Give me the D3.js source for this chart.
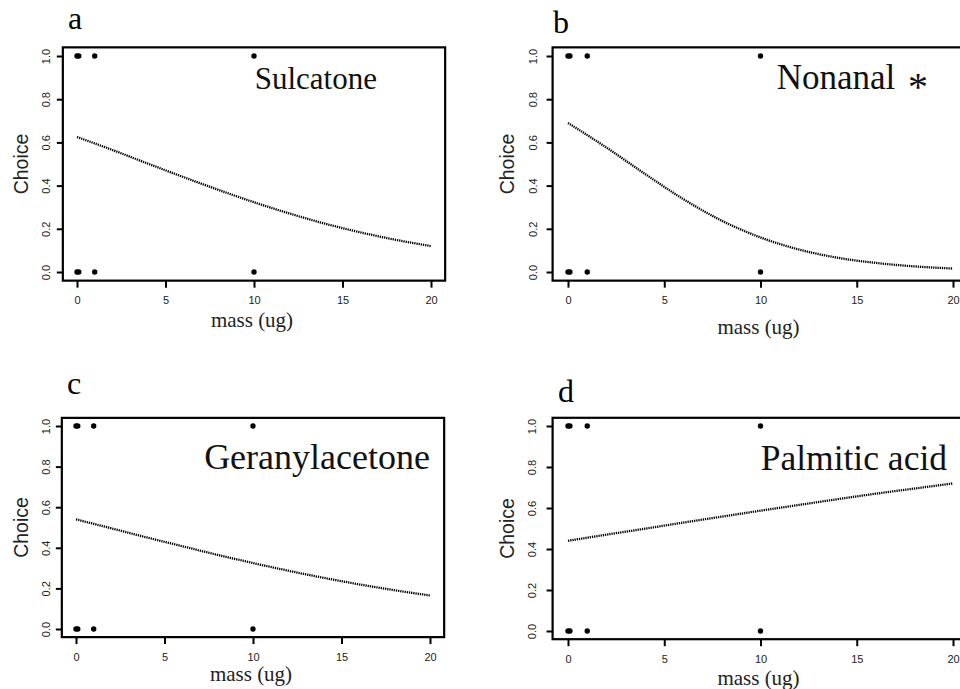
<!DOCTYPE html>
<html>
<head>
<meta charset="utf-8">
<script src="https://cdn.jsdelivr.net/npm/d3@7"></script>
<style>
  body { margin: 0; background: #fff; }
  .tick text { font-family: "Liberation Sans", Arial, sans-serif; font-size: 11px; fill: #222; }
  .tick line { stroke: #000; stroke-width: 2; }
</style>
</head>
<body>
<div id="chart"></div>
<script>
// values
var panelLetters = ["a", "b", "c", "d"];
var compounds = ["Sulcatone", "Nonanal", "Geranylacetone", "Palmitic acid"];
var compoundMarks = ["", "*", "", ""];
var massTicks = [0, 5, 10, 15, 20];
var choiceTicks = [0, 0.2, 0.4, 0.6, 0.8, 1.0];

// observed choices (same design in every panel)
var obsMass = [0, 0.1, 1, 10, 0, 0.1, 1, 10];
var obsChoice = [1, 1, 1, 1, 0, 0, 0, 0];

// fitted curves, read every 2 ug
var fitMass = [0, 2, 4, 6, 8, 10, 12, 14, 16, 18, 20];
var fitSulcatone = [0.625, 0.565, 0.502, 0.440, 0.380, 0.323, 0.271, 0.224, 0.184, 0.149, 0.120];
var fitNonanal = [0.690, 0.576, 0.454, 0.337, 0.237, 0.160, 0.104, 0.066, 0.042, 0.026, 0.016];
var fitGeranylacetone = [0.540, 0.496, 0.451, 0.408, 0.365, 0.325, 0.287, 0.252, 0.220, 0.191, 0.165];
var fitPalmitic = [0.440, 0.470, 0.499, 0.529, 0.558, 0.587, 0.615, 0.643, 0.670, 0.695, 0.720];
var fits = [fitSulcatone, fitNonanal, fitGeranylacetone, fitPalmitic];

// layout of each panel (pixels)
var layout = [
  { xr: [77, 431], yr: [272, 56], letter: [68, 29], title: [377, 89], titleSize: 31, massY: 327, choiceX: 21, tickX: 46 },
  { xr: [568, 953], yr: [272, 56], letter: [553, 33], title: [928, 89], titleSize: 35, massY: 334, choiceX: 507, tickX: 533 },
  { xr: [76, 430], yr: [629, 426], letter: [67, 394], title: [430, 469], titleSize: 36, massY: 681, choiceX: 21, tickX: 46 },
  { xr: [568, 953], yr: [631, 426], letter: [558, 402], title: [947, 470], titleSize: 35.5, massY: 685, choiceX: 507, tickX: 532 }
];

var width = 960, height = 689;

var svg = d3.select("#chart")
  .append("svg")
  .attr("width", width)
  .attr("height", height);

layout.forEach(function (L, i) {
  var g = svg.append("g");

  var x = d3.scaleLinear().domain([0, 20]).range(L.xr);
  var y = d3.scaleLinear().domain([0, 1]).range(L.yr);

  // R style box with 4% padding
  var bx0 = x(-0.8), bx1 = x(20.8), by0 = y(1.04), by1 = y(-0.04);

  // x axis
  g.append("g")
    .attr("transform", "translate(0," + by1 + ")")
    .call(d3.axisBottom(x).tickValues(massTicks).tickSize(7).tickSizeOuter(0).tickPadding(9))
    .call(function (a) { a.select(".domain").remove(); });

  // y axis, rotated labels
  var ya = g.append("g")
    .attr("transform", "translate(" + bx0 + ",0)")
    .call(d3.axisLeft(y).tickValues(choiceTicks).tickSize(6).tickSizeOuter(0)
      .tickFormat(d3.format(".1f")));
  ya.select(".domain").remove();
  ya.selectAll(".tick text")
    .attr("x", null).attr("dy", null)
    .attr("text-anchor", "middle")
    .attr("dominant-baseline", "central")
    .attr("transform", "translate(" + (L.tickX - bx0) + ",0) rotate(-90)");

  g.append("rect")
    .attr("x", bx0).attr("y", by0)
    .attr("width", bx1 - bx0).attr("height", by1 - by0)
    .attr("fill", "none").attr("stroke", "#000").attr("stroke-width", 2.2);

  // fitted curve
  var line = d3.line()
    .x(function (d, j) { return x(fitMass[j]); })
    .y(function (d) { return y(d); })
    .curve(d3.curveMonotoneX);

  g.append("path")
    .datum(fits[i])
    .attr("d", line)
    .attr("fill", "none")
    .attr("stroke", "#000")
    .attr("stroke-width", 2.3)
    .attr("stroke-dasharray", "1.3,0.9");

  // observations
  g.selectAll(".obs")
    .data(obsMass)
    .enter().append("circle")
    .attr("class", "obs")
    .attr("cx", function (d) { return x(d); })
    .attr("cy", function (d, j) { return y(obsChoice[j]); })
    .attr("r", 2.7)
    .attr("fill", "#000");

  // labels
  g.append("text")
    .attr("x", L.letter[0]).attr("y", L.letter[1])
    .style("font-family", "'Liberation Serif', 'Times New Roman', serif")
    .style("font-size", "32px")
    .text(panelLetters[i]);

  var title = g.append("text")
    .attr("x", L.title[0]).attr("y", L.title[1])
    .attr("text-anchor", "end")
    .style("font-family", "'Liberation Serif', 'Times New Roman', serif")
    .style("font-size", L.titleSize + "px")
    .style("fill", "#111");
  title.append("tspan").text(compounds[i] + (compoundMarks[i] ? " " : ""));
  if (compoundMarks[i]) {
    title.append("tspan")
      .attr("dx", 4)
      .attr("dy", 11)
      .style("font-size", "40px")
      .text(compoundMarks[i]);
  }

  g.append("text")
    .attr("x", x(10) - 2).attr("y", L.massY)
    .attr("text-anchor", "middle")
    .style("font-family", "'Liberation Serif', 'Times New Roman', serif")
    .style("font-size", "21px")
    .style("fill", "#222")
    .text("mass (ug)");

  g.append("text")
    .attr("transform", "translate(" + L.choiceX + "," + ((by0 + by1) / 2) + ") rotate(-90)")
    .attr("text-anchor", "middle")
    .attr("dominant-baseline", "central")
    .style("font-family", "'Liberation Sans', Arial, sans-serif")
    .style("font-size", "19.5px")
    .style("fill", "#222")
    .text("Choice");
});
</script>
</body>
</html>
